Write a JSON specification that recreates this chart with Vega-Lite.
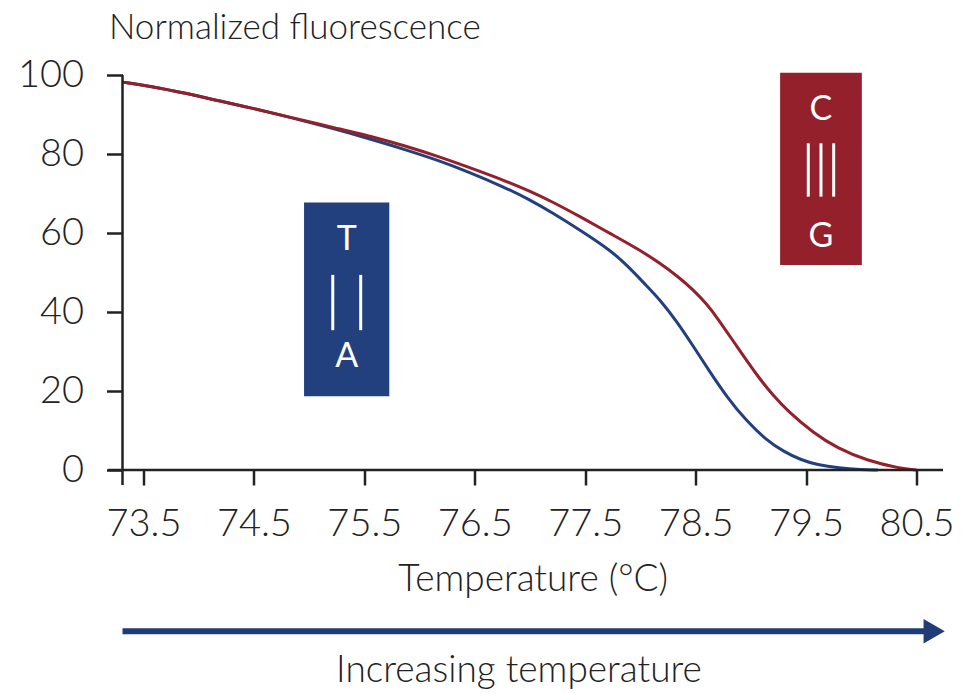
{
  "$schema": "https://vega.github.io/schema/vega-lite/v6.json",
  "width": 820.5,
  "height": 395,
  "autosize": {"type": "none"},
  "padding": {"left": 122.5, "top": 75, "right": 27, "bottom": 224},
  "background": "white",
  "config": {
    "view": {"stroke": null},
    "font": "Lato",
    "text": {"font": "Lato"},
    "axis": {"labelFont": "Lato", "titleFont": "Lato", "labelColor": "#222", "titleColor": "#222", "titleFontWeight": 300, "labelFontWeight": 300}
  },
  "datasets": {
    "curves": [
      {"pair": "AT", "temp": 73.31, "fluor": 98.2},
      {"pair": "AT", "temp": 73.56, "fluor": 97.2},
      {"pair": "AT", "temp": 73.9, "fluor": 95.3},
      {"pair": "AT", "temp": 74.19, "fluor": 93.4},
      {"pair": "AT", "temp": 74.5, "fluor": 91.5},
      {"pair": "AT", "temp": 74.8, "fluor": 89.5},
      {"pair": "AT", "temp": 75.25, "fluor": 86.2},
      {"pair": "AT", "temp": 75.55, "fluor": 83.8},
      {"pair": "AT", "temp": 75.85, "fluor": 81.3},
      {"pair": "AT", "temp": 76.16, "fluor": 78.5},
      {"pair": "AT", "temp": 76.45, "fluor": 75.4},
      {"pair": "AT", "temp": 76.76, "fluor": 71.7},
      {"pair": "AT", "temp": 77.0, "fluor": 68.4},
      {"pair": "AT", "temp": 77.21, "fluor": 65.0},
      {"pair": "AT", "temp": 77.45, "fluor": 60.8},
      {"pair": "AT", "temp": 77.73, "fluor": 55.6},
      {"pair": "AT", "temp": 77.88, "fluor": 51.8},
      {"pair": "AT", "temp": 78.05, "fluor": 46.8},
      {"pair": "AT", "temp": 78.18, "fluor": 43.0},
      {"pair": "AT", "temp": 78.33, "fluor": 37.6},
      {"pair": "AT", "temp": 78.48, "fluor": 31.3},
      {"pair": "AT", "temp": 78.63, "fluor": 24.8},
      {"pair": "AT", "temp": 78.78, "fluor": 18.6},
      {"pair": "AT", "temp": 78.96, "fluor": 12.4},
      {"pair": "AT", "temp": 79.14, "fluor": 7.6},
      {"pair": "AT", "temp": 79.3, "fluor": 4.6},
      {"pair": "AT", "temp": 79.45, "fluor": 2.6},
      {"pair": "AT", "temp": 79.6, "fluor": 1.3},
      {"pair": "AT", "temp": 79.8, "fluor": 0.5},
      {"pair": "AT", "temp": 80.0, "fluor": 0.1},
      {"pair": "AT", "temp": 80.15, "fluor": 0.0},
      {"pair": "CG", "temp": 73.31, "fluor": 98.2},
      {"pair": "CG", "temp": 73.56, "fluor": 97.2},
      {"pair": "CG", "temp": 73.9, "fluor": 95.3},
      {"pair": "CG", "temp": 74.19, "fluor": 93.4},
      {"pair": "CG", "temp": 74.5, "fluor": 91.5},
      {"pair": "CG", "temp": 74.8, "fluor": 89.5},
      {"pair": "CG", "temp": 75.25, "fluor": 86.5},
      {"pair": "CG", "temp": 75.6, "fluor": 84.2},
      {"pair": "CG", "temp": 75.85, "fluor": 82.2},
      {"pair": "CG", "temp": 76.16, "fluor": 79.5},
      {"pair": "CG", "temp": 76.45, "fluor": 76.6},
      {"pair": "CG", "temp": 76.76, "fluor": 73.4},
      {"pair": "CG", "temp": 77.0, "fluor": 70.6},
      {"pair": "CG", "temp": 77.21, "fluor": 67.8},
      {"pair": "CG", "temp": 77.45, "fluor": 64.2},
      {"pair": "CG", "temp": 77.73, "fluor": 59.8},
      {"pair": "CG", "temp": 78.0, "fluor": 55.6},
      {"pair": "CG", "temp": 78.18, "fluor": 52.3},
      {"pair": "CG", "temp": 78.33, "fluor": 49.2},
      {"pair": "CG", "temp": 78.48, "fluor": 45.6},
      {"pair": "CG", "temp": 78.6, "fluor": 42.0},
      {"pair": "CG", "temp": 78.69, "fluor": 38.8},
      {"pair": "CG", "temp": 78.87, "fluor": 31.4},
      {"pair": "CG", "temp": 79.08, "fluor": 23.0},
      {"pair": "CG", "temp": 79.2, "fluor": 19.0},
      {"pair": "CG", "temp": 79.33, "fluor": 15.0},
      {"pair": "CG", "temp": 79.57, "fluor": 9.3},
      {"pair": "CG", "temp": 79.78, "fluor": 5.6},
      {"pair": "CG", "temp": 80.05, "fluor": 2.4},
      {"pair": "CG", "temp": 80.35, "fluor": 0.4},
      {"pair": "CG", "temp": 80.5, "fluor": 0.0}
    ],
    "axislines": [
      {"x": 73.18, "x2": 80.74, "y": 0, "y2": 0},
      {"x": 73.31, "x2": 73.31, "y": -3.8, "y2": 100}
    ],
    "boxes": [
      {"pair": "AT", "x": 74.954, "x2": 75.726, "y": 18.7, "y2": 67.7},
      {"pair": "CG", "x": 79.265, "x2": 80.005, "y": 51.9, "y2": 100.6}
    ],
    "letters": [
      {"letter": "T", "x": 75.34, "y": 58.2},
      {"letter": "A", "x": 75.34, "y": 28.7},
      {"letter": "C", "x": 79.635, "y": 91.1},
      {"letter": "G", "x": 79.635, "y": 59.1}
    ],
    "bonds": [
      {"x": 75.214, "y": 35.4, "y2": 49.4},
      {"x": 75.467, "y": 35.4, "y2": 49.4},
      {"x": 79.52, "y": 69.2, "y2": 82.7},
      {"x": 79.635, "y": 69.2, "y2": 82.7},
      {"x": 79.75, "y": 69.2, "y2": 82.7}
    ],
    "arrow": [
      {"x": 73.31, "x2": 80.6, "y": -40.8, "tip": 80.66, "label": "Increasing temperature", "lx": 76.9, "ly": -53.7}
    ]
  },
  "layer": [
    {
      "data": {"name": "curves"},
      "mark": {"type": "line", "strokeWidth": 3, "interpolate": "basis"},
      "encoding": {
        "x": {
          "field": "temp", "type": "quantitative",
          "scale": {"domain": [73.31, 80.74], "nice": false, "zero": false},
          "axis": {
            "values": [73.5, 74.5, 75.5, 76.5, 77.5, 78.5, 79.5, 80.5],
            "format": ".1f", "domain": false, "grid": false,
            "labelFontSize": 38, "labelPadding": 20,
            "tickSize": 15, "tickWidth": 2.5, "tickColor": "#222",
            "title": "Temperature (°C)", "titleFontSize": 37,
            "titleY": 120, "titleBaseline": "alphabetic"
          }
        },
        "y": {
          "field": "fluor", "type": "quantitative",
          "scale": {"domain": [0, 100], "nice": false},
          "axis": {
            "values": [0, 20, 40, 60, 80, 100],
            "domain": false, "grid": false,
            "labelFontSize": 38, "labelPadding": 23,
            "tickSize": 16, "tickWidth": 2.5, "tickColor": "#222",
            "title": "Normalized fluorescence", "titleFontSize": 35,
            "titleAngle": 0, "titleAlign": "left", "titleBaseline": "alphabetic",
            "titleX": -14, "titleY": -37
          }
        },
        "color": {
          "field": "pair", "type": "nominal",
          "scale": {"domain": ["AT", "CG"], "range": ["#22407e", "#93202a"]},
          "legend": null
        }
      }
    },
    {
      "data": {"name": "axislines"},
      "mark": {"type": "rule", "strokeWidth": 2.5, "color": "#222"},
      "encoding": {
        "x": {"field": "x", "type": "quantitative"},
        "x2": {"field": "x2"},
        "y": {"field": "y", "type": "quantitative"},
        "y2": {"field": "y2"}
      }
    },
    {
      "data": {"name": "boxes"},
      "mark": {"type": "rect"},
      "encoding": {
        "x": {"field": "x", "type": "quantitative"},
        "x2": {"field": "x2"},
        "y": {"field": "y", "type": "quantitative"},
        "y2": {"field": "y2"},
        "color": {"field": "pair", "type": "nominal", "legend": null}
      }
    },
    {
      "data": {"name": "letters"},
      "mark": {"type": "text", "color": "white", "fontSize": 34, "fontWeight": "normal", "align": "center", "baseline": "middle"},
      "encoding": {
        "x": {"field": "x", "type": "quantitative"},
        "y": {"field": "y", "type": "quantitative"},
        "text": {"field": "letter"}
      }
    },
    {
      "data": {"name": "bonds"},
      "mark": {"type": "rule", "color": "white", "strokeWidth": 3},
      "encoding": {
        "x": {"field": "x", "type": "quantitative"},
        "y": {"field": "y", "type": "quantitative"},
        "y2": {"field": "y2"}
      }
    },
    {
      "data": {"name": "arrow"},
      "mark": {"type": "rule", "color": "#1f3b78", "strokeWidth": 6},
      "encoding": {
        "x": {"field": "x", "type": "quantitative"},
        "x2": {"field": "x2"},
        "y": {"field": "y", "type": "quantitative"}
      }
    },
    {
      "data": {"name": "arrow"},
      "mark": {"type": "point", "shape": "triangle-right", "filled": true, "opacity": 1, "color": "#1f3b78", "size": 600},
      "encoding": {
        "x": {"field": "tip", "type": "quantitative"},
        "y": {"field": "y", "type": "quantitative"}
      }
    },
    {
      "data": {"name": "arrow"},
      "mark": {"type": "text", "color": "#222", "fontSize": 37, "fontWeight": 300, "align": "center", "baseline": "alphabetic"},
      "encoding": {
        "x": {"field": "lx", "type": "quantitative"},
        "y": {"field": "ly", "type": "quantitative"},
        "text": {"field": "label"}
      }
    }
  ]
}
